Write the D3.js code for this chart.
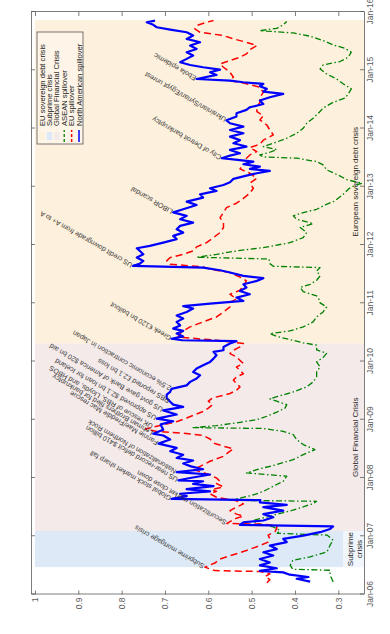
<!DOCTYPE html>
<html>
<head>
<meta charset="utf-8">
<script src="https://cdn.jsdelivr.net/npm/d3@7"></script>
<style>
  body { margin: 0; background: #fff; }
  svg { display: block; font-family: "Liberation Sans", Arial, sans-serif; }
</style>
</head>
<body>
<div id="chart"></div>
<script>
// ---- data (decimal year, spillover index) ----
const northAmerica = [[2006.22,.365],[2006.27,.396],[2006.30,.369],[2006.34,.412],[2006.38,.427],[2006.405,.481],[2006.45,.442],[2006.50,.481],[2006.55,.458],[2006.61,.481],[2006.67,.45],[2006.725,.473],[2006.78,.442],[2006.84,.458],[2006.90,.419],[2006.955,.427],[2007.01,.381],[2007.07,.342],[2007.125,.319],[2007.17,.312],[2007.195,.527],[2007.24,.519],[2007.27,.473],[2007.325,.45],[2007.38,.473],[2007.44,.427],[2007.50,.473],[2007.54,.419],[2007.58,.481],[2007.62,.48],[2007.64,.685],[2007.69,.65],[2007.73,.665],[2007.77,.596],[2007.81,.65],[2007.86,.588],[2007.90,.635],[2007.944,.612],[2007.96,.669],[2008.00,.642],[2008.06,.596],[2008.10,.673],[2008.15,.612],[2008.20,.64],[2008.25,.658],[2008.30,.635],[2008.345,.673],[2008.40,.658],[2008.46,.688],[2008.516,.673],[2008.59,.715],[2008.66,.688],[2008.73,.704],[2008.76,.727],[2008.83,.704],[2008.92,.71],[2008.974,.681],[2009.02,.719],[2009.09,.673],[2009.16,.704],[2009.22,.658],[2009.26,.681],[2009.31,.688],[2009.375,.696],[2009.43,.696],[2009.48,.688],[2009.53,.685],[2009.59,.65],[2009.65,.642],[2009.707,.627],[2009.764,.619],[2009.82,.635],[2009.88,.627],[2009.935,.612],[2009.993,.596],[2010.05,.588],[2010.107,.581],[2010.165,.588],[2010.193,.565],[2010.25,.565],[2010.308,.55],[2010.35,.535],[2010.365,.66],[2010.39,.685],[2010.43,.658],[2010.48,.673],[2010.525,.658],[2010.565,.681],[2010.62,.665],[2010.68,.673],[2010.737,.658],[2010.79,.673],[2010.85,.65],[2010.91,.635],[2010.95,.658],[2010.995,.596],[2011.04,.519],[2011.097,.535],[2011.155,.504],[2011.21,.527],[2011.27,.512],[2011.326,.519],[2011.384,.488],[2011.43,.473],[2011.47,.519],[2011.527,.55],[2011.567,.573],[2011.612,.612],[2011.64,.774],[2011.68,.758],[2011.727,.75],[2011.784,.765],[2011.84,.75],[2011.898,.758],[2011.944,.765],[2011.984,.735],[2012.04,.704],[2012.10,.673],[2012.156,.681],[2012.213,.658],[2012.27,.673],[2012.328,.665],[2012.385,.635],[2012.442,.665],[2012.50,.65],[2012.56,.681],[2012.613,.658],[2012.688,.627],[2012.745,.65],[2012.814,.612],[2012.87,.619],[2012.928,.581],[2012.974,.596],[2013.031,.565],[2013.077,.55],[2013.135,.542],[2013.19,.512],[2013.232,.488],[2013.272,.458],[2013.306,.504],[2013.346,.481],[2013.386,.519],[2013.432,.496],[2013.49,.569],[2013.535,.55],[2013.575,.527],[2013.632,.55],[2013.69,.512],[2013.746,.542],[2013.80,.527],[2013.86,.55],[2013.918,.519],[2013.975,.55],[2014.033,.519],[2014.09,.55],[2014.14,.558],[2014.205,.535],[2014.262,.535],[2014.32,.512],[2014.365,.504],[2014.42,.473],[2014.48,.481],[2014.536,.458],[2014.594,.427],[2014.634,.473],[2014.68,.465],[2014.725,.481],[2014.765,.473],[2014.794,.519],[2014.823,.55],[2014.85,.627],[2014.92,.581],[2014.966,.596],[2015.01,.573],[2015.052,.612],[2015.09,.642],[2015.138,.665],[2015.195,.65],[2015.252,.635],[2015.31,.65],[2015.366,.627],[2015.424,.642],[2015.48,.619],[2015.538,.65],[2015.595,.635],[2015.652,.65],[2015.698,.688],[2015.738,.719],[2015.78,.727],[2015.824,.742],[2015.853,.723]]

const euSpill = [[2006.20,.465],[2006.255,.458],[2006.31,.469],[2006.355,.458],[2006.395,.481],[2006.41,.585],[2006.47,.608],[2006.54,.585],[2006.61,.573],[2006.70,.535],[2006.755,.512],[2006.84,.481],[2006.90,.462],[2006.955,.458],[2007.02,.462],[2007.08,.446],[2007.14,.442],[2007.18,.442],[2007.205,.473],[2007.22,.557],[2007.25,.55],[2007.31,.535],[2007.345,.519],[2007.38,.535],[2007.44,.55],[2007.50,.535],[2007.555,.519],[2007.61,.535],[2007.67,.581],[2007.73,.596],[2007.77,.581],[2007.80,.592],[2007.847,.565],[2007.904,.581],[2007.944,.573],[2008.00,.581],[2008.075,.604],[2008.145,.635],[2008.20,.619],[2008.287,.596],[2008.373,.565],[2008.46,.55],[2008.50,.542],[2008.545,.565],[2008.60,.588],[2008.67,.596],[2008.73,.612],[2008.774,.665],[2008.80,.719],[2008.84,.745],[2008.876,.727],[2008.92,.70],[2008.974,.67],[2009.03,.65],[2009.09,.63],[2009.146,.61],[2009.20,.60],[2009.26,.59],[2009.32,.60],[2009.375,.59],[2009.45,.55],[2009.506,.535],[2009.564,.527],[2009.62,.535],[2009.68,.542],[2009.735,.535],[2009.79,.519],[2009.85,.527],[2009.907,.535],[2009.965,.519],[2010.02,.527],[2010.08,.535],[2010.136,.55],[2010.193,.542],[2010.25,.527],[2010.308,.519],[2010.337,.55],[2010.365,.581],[2010.42,.67],[2010.508,.662],[2010.594,.642],[2010.68,.612],[2010.765,.581],[2010.85,.565],[2010.937,.55],[2011.02,.55],[2011.07,.535],[2011.155,.55],[2011.223,.527],[2011.30,.519],[2011.384,.512],[2011.45,.527],[2011.527,.55],[2011.584,.596],[2011.624,.612],[2011.67,.688],[2011.727,.696],[2011.784,.688],[2011.84,.658],[2011.898,.635],[2011.967,.627],[2012.04,.604],[2012.127,.588],[2012.213,.573],[2012.30,.565],[2012.385,.565],[2012.47,.573],[2012.556,.565],[2012.642,.558],[2012.717,.535],[2012.80,.519],[2012.89,.504],[2012.974,.496],[2013.06,.504],[2013.146,.488],[2013.232,.504],[2013.306,.527],[2013.375,.519],[2013.432,.504],[2013.49,.512],[2013.546,.504],[2013.604,.488],[2013.672,.504],[2013.73,.481],[2013.80,.473],[2013.89,.45],[2013.975,.458],[2014.06,.465],[2014.147,.481],[2014.22,.473],[2014.29,.488],[2014.365,.488],[2014.45,.481],[2014.536,.481],[2014.62,.473],[2014.708,.481],[2014.78,.519],[2014.823,.55],[2014.88,.542],[2014.966,.55],[2015.052,.565],[2015.11,.573],[2015.166,.55],[2015.223,.527],[2015.28,.512],[2015.355,.504],[2015.424,.488],[2015.48,.512],[2015.538,.542],[2015.595,.565],[2015.652,.619],[2015.71,.631],[2015.767,.627],[2015.824,.604],[2015.853,.588]]

const aseanSpill = [[2006.216,.312],[2006.27,.315],[2006.33,.319],[2006.416,.319],[2006.433,.405],[2006.50,.411],[2006.588,.405],[2006.645,.365],[2006.733,.326],[2006.847,.319],[2006.933,.312],[2007.02,.326],[2007.05,.441],[2007.10,.435],[2007.16,.45],[2007.218,.488],[2007.275,.496],[2007.33,.465],[2007.447,.405],[2007.56,.358],[2007.60,.35],[2007.618,.55],[2007.70,.50],[2007.77,.473],[2007.86,.45],[2007.944,.427],[2008.03,.419],[2008.087,.512],[2008.145,.488],[2008.23,.442],[2008.316,.404],[2008.40,.381],[2008.488,.354],[2008.574,.381],[2008.66,.396],[2008.745,.404],[2008.80,.427],[2008.85,.473],[2008.865,.635],[2008.90,.581],[2008.946,.535],[2009.003,.488],[2009.06,.465],[2009.13,.442],[2009.20,.423],[2009.26,.419],[2009.318,.442],[2009.36,.458],[2009.40,.44],[2009.477,.404],[2009.564,.373],[2009.65,.358],[2009.735,.35],[2009.82,.35],[2009.907,.342],[2009.993,.35],[2010.07,.335],[2010.14,.327],[2010.20,.35],[2010.28,.35],[2010.32,.381],[2010.377,.412],[2010.43,.442],[2010.48,.458],[2010.525,.412],[2010.594,.381],[2010.68,.358],[2010.765,.35],[2010.85,.335],[2010.937,.327],[2011.006,.342],[2011.04,.342],[2011.127,.35],[2011.20,.381],[2011.27,.388],[2011.326,.365],[2011.395,.35],[2011.47,.342],[2011.556,.35],[2011.612,.342],[2011.635,.45],[2011.68,.458],[2011.76,.46],[2011.79,.627],[2011.84,.581],[2011.898,.535],[2011.955,.473],[2012.04,.412],[2012.127,.381],[2012.213,.373],[2012.30,.388],[2012.368,.358],[2012.44,.396],[2012.50,.404],[2012.556,.381],[2012.613,.35],[2012.69,.33],[2012.75,.31],[2012.86,.29],[2012.97,.275],[2013.03,.26],[2013.06,.245],[2013.12,.28],[2013.20,.30],[2013.29,.327],[2013.375,.335],[2013.432,.35],[2013.49,.396],[2013.512,.473],[2013.546,.481],[2013.592,.458],[2013.638,.442],[2013.69,.473],[2013.746,.45],[2013.833,.419],[2013.918,.396],[2014.004,.381],[2014.09,.373],[2014.176,.358],[2014.262,.346],[2014.35,.335],[2014.45,.312],[2014.52,.285],[2014.594,.277],[2014.68,.27],[2014.765,.288],[2014.85,.304],[2014.937,.327],[2015.023,.342],[2015.09,.335],[2015.15,.296],[2015.223,.277],[2015.31,.27],[2015.378,.285],[2015.435,.312],[2015.51,.335],[2015.584,.365],[2015.64,.404],[2015.68,.481],[2015.72,.442],[2015.78,.427],[2015.836,.419]]

const crisisNames = ["Subprime crisis", "Global Financial Crisis", "European sovereign debt crisis"]
const crisisStart = [2006.47, 2007.09, 2010.31]
const crisisEnd   = [2007.09, 2010.31, 2015.86]

const eventLabels = [
  "Subprime mortgage crisis", "Securitization market close down", "Global stock market sharp fall",
  "US near-record deficit $410 billion", "Nationalization of Northern Rock", "Fannie Mae/Freddie Mac rescue",
  "Lehman Brothers filed for bankruptcy", "UK rescue of RBS, Lloyds, and HBOS", "US approved $2.1 bn loan for Iceland",
  "US govt gave Bank of America $20 bn aid", "RBS reported £2.1 bn loss", "2.5% economic contraction in Japan",
  "Greek €120 bn bailout", "US credit downgrade from A+ to A", "LIBOR scandal",
  "City of Detroit bankruptcy", "Ukrainian/Syrian/Egypt unrest", "Ebola epidemic"
]
const eventDates = [2006.47, 2007.22, 2007.64, 2007.96, 2008.10, 2008.59, 2008.76, 2008.876, 2009.02,
  2009.16, 2009.31, 2009.53, 2010.39, 2011.64, 2012.56, 2013.49, 2014.14, 2014.85]

const yearTicks  = [2006, 2007, 2008, 2009, 2010, 2011, 2012, 2013, 2014, 2015, 2016]
const yearLabels = ["Jan-06","Jan-07","Jan-08","Jan-09","Jan-10","Jan-11","Jan-12","Jan-13","Jan-14","Jan-15","Jan-16"]
const valueTicks  = [1, 0.9, 0.8, 0.7, 0.6, 0.5, 0.4, 0.3]
const valueLabels = ["1","0.9","0.8","0.7","0.6","0.5","0.4","0.3"]

// ---- styles ----
const crisisColors = ["#dde9f7", "#f4eaea", "#fdf0dc"]
const lineStyles = {
  asean: {color: "#008000", width: 1.3, dash: "6,2.5,1.5,2.5"},
  eu:    {color: "#ff0000", width: 1.5, dash: "7,4"},
  na:    {color: "#0000ff", width: 2.2, dash: null}
}

// ---- layout: chart is drawn in landscape and rotated -90deg ----
const box = {left: 31, top: 12, right: 364, bottom: 594.5}
const W = box.bottom - box.top   // time axis length
const H = box.right - box.left   // value axis length

const svg = d3.select("#chart").append("svg")
    .attr("width", 390)
    .attr("height", 634)

const g = svg.append("g")
    .attr("transform", `translate(${box.left},${box.bottom}) rotate(-90)`)

const xScale = d3.scaleLinear().domain([2006, 2016]).range([0, W])
const yScale = d3.scaleLinear().domain([0.2407, 1.0092]).range([H, 0])

// crisis shading
g.selectAll(".span").data(crisisNames).join("rect")
    .attr("class", "span")
    .attr("x", (d, i) => xScale(crisisStart[i]))
    .attr("width", (d, i) => xScale(crisisEnd[i]) - xScale(crisisStart[i]))
    .attr("y", yScale(1))
    .attr("height", H - yScale(1))
    .attr("fill", (d, i) => crisisColors[i])

// light box behind the subprime label
g.append("rect")
    .attr("x", xScale(crisisStart[0]))
    .attr("width", xScale(crisisEnd[0]) - xScale(crisisStart[0]))
    .attr("y", H - 21)
    .attr("height", 21)
    .attr("fill", "#f1f6fc")

// crisis labels
const labelG = g.append("g")
    .attr("font-size", 8)
    .attr("fill", "#262626")
    .attr("text-anchor", "middle")
labelG.append("text")
    .attr("x", (xScale(crisisStart[0]) + xScale(crisisEnd[0])) / 2)
    .attr("y", H - 11.5)
    .text(crisisNames[0].split(" ")[0])
labelG.append("text")
    .attr("x", (xScale(crisisStart[0]) + xScale(crisisEnd[0])) / 2)
    .attr("y", H - 2.5)
    .text(crisisNames[0].split(" ")[1])
labelG.selectAll(".clab").data(crisisNames.slice(1)).join("text")
    .attr("class", "clab")
    .attr("x", (d, i) => (xScale(crisisStart[i + 1]) + xScale(crisisEnd[i + 1])) / 2)
    .attr("y", H - 6)
    .text(d => d)

// axes (ticks inside on all four sides)
function styleAxis(sel) {
    sel.attr("color", "#5a5a5a").attr("font-size", 8.5)
        .attr("font-family", "\"Liberation Sans\", Arial, sans-serif")
    sel.selectAll("path, line").attr("stroke-width", 0.8)
}
g.append("g")
    .attr("transform", `translate(0,${H})`)
    .call(d3.axisBottom(xScale).tickValues(yearTicks).tickFormat((d, i) => yearLabels[i])
        .tickSizeInner(-4).tickSizeOuter(0).tickPadding(3))
    .call(styleAxis)
g.append("g")
    .call(d3.axisTop(xScale).tickValues(yearTicks).tickFormat("")
        .tickSizeInner(-4).tickSizeOuter(0))
    .call(styleAxis)
g.append("g")
    .call(d3.axisLeft(yScale).tickValues(valueTicks).tickFormat((d, i) => valueLabels[i])
        .tickSizeInner(-4).tickSizeOuter(0).tickPadding(3))
    .call(styleAxis)
g.append("g")
    .attr("transform", `translate(${W},0)`)
    .call(d3.axisRight(yScale).tickValues(valueTicks).tickFormat("")
        .tickSizeInner(-4).tickSizeOuter(0))
    .call(styleAxis)

// series
const line = d3.line()
    .x(d => xScale(d[0]))
    .y(d => yScale(d[1]))

const series = [
    {data: aseanSpill, style: lineStyles.asean},
    {data: euSpill, style: lineStyles.eu},
    {data: northAmerica, style: lineStyles.na}
]
g.selectAll(".series").data(series).join("path")
    .attr("class", "series")
    .attr("d", d => line(d.data))
    .attr("fill", "none")
    .attr("stroke", d => d.style.color)
    .attr("stroke-width", d => d.style.width)
    .attr("stroke-dasharray", d => d.style.dash)
    .attr("stroke-linejoin", "round")

// event annotations sit on the highest series at that date
const bisect = d3.bisector(d => d[0]).left
function valueAt(data, t) {
    const i = bisect(data, t)
    if (i <= 0) return data[0][1]
    if (i >= data.length) return data[data.length - 1][1]
    const a = data[i - 1], b = data[i]
    return a[1] + (b[1] - a[1]) * (t - a[0]) / (b[0] - a[0])
}
g.append("g")
    .attr("font-size", 7)
    .attr("fill", "#3a3a3a")
  .selectAll("text").data(eventLabels).join("text")
    .attr("transform", (d, i) => {
        const t = eventDates[i]
        const v = d3.max(series, s => valueAt(s.data, t))
        return `translate(${xScale(t)},${yScale(v)}) rotate(-60)`
    })
    .attr("x", 1)
    .attr("dy", "0.3em")
    .text(d => d)

// legend
const legendItems = [
    {label: "EU sovereign debt crisis", fill: crisisColors[2]},
    {label: "Subprime crisis", fill: crisisColors[0]},
    {label: "Global Financial Crisis", fill: crisisColors[1]},
    {label: "ASEAN spillover", style: lineStyles.asean},
    {label: "EU spillover", style: lineStyles.eu},
    {label: "North American spillover", style: lineStyles.na}
]
const legend = g.append("g")
    .attr("transform", `translate(${W - 132},6)`)
legend.append("rect")
    .attr("width", 112)
    .attr("height", 46)
    .attr("fill", "#fff")
    .attr("fill-opacity", 0.35)
    .attr("stroke", "#555")
    .attr("stroke-width", 0.8)
const rows = legend.selectAll(".row").data(legendItems).join("g")
    .attr("class", "row")
    .attr("transform", (d, i) => `translate(0,${5 + i * 7.4})`)
rows.filter(d => d.fill).append("rect")
    .attr("x", 4).attr("y", -2.8)
    .attr("width", 8).attr("height", 5.6)
    .attr("fill", d => d.fill)
rows.filter(d => d.style).append("line")
    .attr("x1", 2).attr("x2", 14)
    .attr("stroke", d => d.style.color)
    .attr("stroke-width", d => Math.min(d.style.width, 1.5))
    .attr("stroke-dasharray", d => d.style.dash ? "3,2" : null)
rows.append("text")
    .attr("x", 18)
    .attr("dy", "0.34em")
    .attr("font-size", 7.6)
    .attr("fill", "#1a1a1a")
    .text(d => d.label)
</script>
</body>
</html>
